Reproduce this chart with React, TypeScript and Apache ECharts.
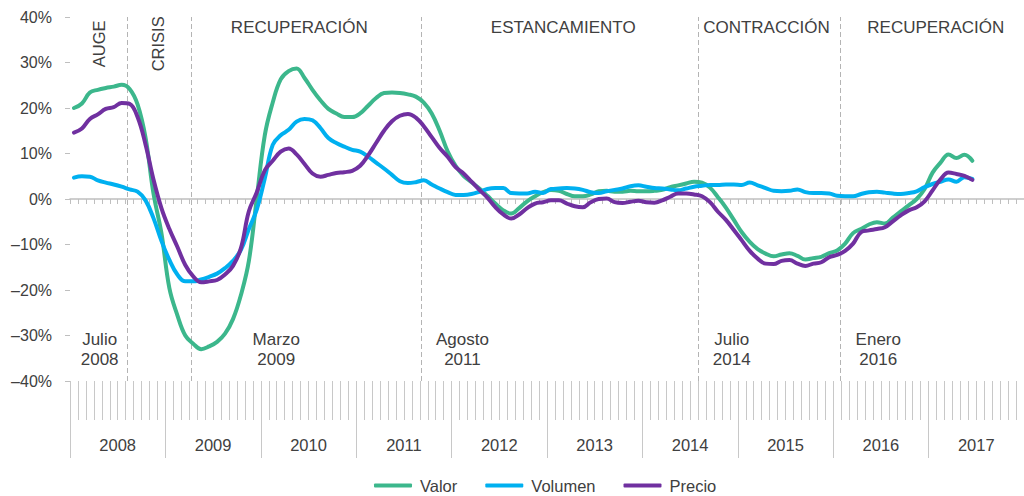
import React, { useEffect, useRef } from "react";
import * as echarts from "echarts";

// Month axis: Jan 2008 .. Dec 2017 (120 months); data Jan 2008 .. Jun 2017
const YEARS = ["2008", "2009", "2010", "2011", "2012", "2013", "2014", "2015", "2016", "2017"];
const MONTHS_ON_AXIS = 120;

const VALOR = [
  20.0, 21.0, 23.4, 24.0, 24.4, 24.7, 25.1, 24.2, 20.8, 13.5, 1.2, -7.5,
  -19.6, -25.5, -30.0, -31.8, -33.0, -32.4, -31.4, -29.6, -26.4, -21.1, -13.6, 0.3,
  14.0, 21.2, 26.3, 28.1, 28.7, 26.6, 24.0, 21.7, 19.8, 18.8, 18.0, 18.0,
  18.8, 20.5, 22.2, 23.3, 23.4, 23.3, 23.0, 22.5, 21.2, 18.8, 15.0, 10.5,
  7.3, 5.1, 3.7, 2.3, 0.7, -1.0, -2.5, -3.2, -2.0, -0.5, 0.6, 1.5,
  2.0, 1.8, 1.1, 0.6, 0.6, 1.0, 1.7, 1.8, 1.6, 1.6, 1.8, 1.7,
  1.7, 1.8, 2.0, 2.6, 3.0, 3.4, 3.8, 3.6, 2.5, 0.4, -1.9, -4.6,
  -7.3, -9.4, -11.0, -12.0, -12.6, -12.2, -11.9, -12.5, -13.3, -13.0, -12.7, -11.9,
  -11.3, -9.8, -7.5, -6.6, -5.6, -5.1, -5.4, -4.1, -2.7, -1.4, 0.0, 2.2,
  5.8, 8.0, 9.8, 9.0, 9.7, 8.4,
];

const VOLUMEN = [
  4.7, 5.0, 4.9, 4.1, 3.6, 3.2, 2.7, 2.1, 1.6, -0.3, -4.2, -9.2,
  -13.4, -16.6, -18.1, -18.1, -17.7, -17.1, -16.4, -15.2, -13.6, -11.2, -6.6, -2.3,
  4.5, 11.9, 14.0, 15.2, 17.0, 17.6, 17.3, 15.6, 13.4, 12.3, 11.5, 10.8,
  10.4, 9.3, 8.0, 6.7, 5.3, 3.9, 3.5, 3.7, 4.1, 3.2, 2.3, 1.5,
  0.9, 0.9, 1.1, 1.6, 2.2, 2.4, 2.4, 1.3, 1.2, 1.2, 1.6, 1.3,
  2.2, 2.3, 2.4, 2.3, 2.0, 1.5, 1.3, 1.7, 2.0, 2.3, 2.8, 3.0,
  2.7, 2.4, 2.3, 2.1, 1.9, 2.3, 2.7, 2.9, 3.1, 3.1, 3.2, 3.2,
  3.1, 3.6, 3.0, 2.4, 1.8, 1.7, 1.8, 2.1, 1.5, 1.3, 1.3, 1.2,
  0.7, 0.6, 0.6, 1.1, 1.5, 1.6, 1.4, 1.2, 1.1, 1.3, 1.7, 2.6,
  3.3, 3.8, 4.3, 3.8, 4.8, 4.4,
];

const PRECIO = [
  14.6, 15.5, 17.6, 18.6, 19.8, 20.2, 21.1, 20.9, 18.0, 12.0, 4.3, -2.0,
  -6.6, -10.5, -14.5, -17.0, -18.3, -18.1, -17.8, -16.6, -14.7, -10.8, -2.7, 1.5,
  6.3, 8.4, 10.4, 11.1, 9.8, 7.7, 5.6, 4.9, 5.3, 5.7, 5.9, 6.2,
  7.3, 9.6, 12.3, 15.0, 17.1, 18.3, 18.7, 17.9, 16.0, 13.6, 11.2, 9.3,
  7.0, 5.6, 3.8, 2.0, 0.3, -1.8, -3.4, -4.3, -3.4, -2.0, -1.0, -0.7,
  -0.3, -0.3, -1.0, -1.6, -1.8, -0.7, 0.0, 0.1, -0.7, -0.9, -0.6, -0.4,
  -0.7, -0.8, -0.3, 0.5, 1.2, 1.2, 1.0, 0.6, -0.7, -2.8, -4.6, -6.8,
  -9.1, -11.4, -13.1, -14.2, -14.3, -13.6, -13.4, -14.2, -14.7, -14.2, -13.9, -12.8,
  -12.3, -11.4, -9.8, -7.3, -6.9, -6.6, -6.2, -4.9, -3.6, -2.5, -1.8, -0.5,
  1.9, 4.3, 5.8, 5.5, 5.1, 4.2,
];

const Y_MIN = -40;
const Y_MAX = 40;
const Y_STEP = 10;

// Vertical dashed dividers (in months from Jan 2008)
const DIVIDERS = [7.24, 15.27, 44.2, 79.07, 96.84];

// Phase labels (month position, value position)
const PHASES = [
  { text: "AUGE", x: 3.66, y: 34.1, rotate: 90 },
  { text: "CRISIS", x: 11.13, y: 34.1, rotate: 90 },
  { text: "RECUPERACIÓN", x: 28.85, y: 37.7, rotate: 0 },
  { text: "ESTANCAMIENTO", x: 62.04, y: 37.7, rotate: 0 },
  { text: "CONTRACCIÓN", x: 87.6, y: 37.7, rotate: 0 },
  { text: "RECUPERACIÓN", x: 108.9, y: 37.7, rotate: 0 },
];

const EVENTS = [
  { text: "Julio\n2008", x: 3.73 },
  { text: "Marzo\n2009", x: 25.94 },
  { text: "Agosto\n2011", x: 49.36 },
  { text: "Julio\n2014", x: 83.23 },
  { text: "Enero\n2016", x: 101.67 },
];
const EVENT_Y = -33.1;

const FONT = "'Liberation Sans', Arial, Helvetica, sans-serif";
const TEXT = "#404040";
const AXIS_GRAY = "#bfbfbf";
const C_VALOR = "#3cb78c";
const C_VOLUMEN = "#00b0f0";
const C_PRECIO = "#7030a0";

const toPoints = (arr: number[]) => arr.map((v, i) => [i + 0.5, v]);

export default function App() {
  const ref = useRef<HTMLDivElement>(null);

  useEffect(() => {
    if (!ref.current) return;
    const chart = echarts.init(ref.current, undefined, { renderer: "svg" });

    const lineSeries = (name: string, data: number[], color: string, extra: any = {}) => ({
      name,
      type: "line",
      xAxisIndex: 0,
      yAxisIndex: 0,
      data: toPoints(data),
      smooth: 0.4,
      showSymbol: false,
      symbol: "none",
      lineStyle: { color, width: 4, cap: "round", join: "round" },
      itemStyle: { color },
      z: 3,
      ...extra,
    });

    const option: any = {
      animation: false,
      textStyle: { fontFamily: FONT },
      grid: { left: 70, top: 17, width: 956.6, height: 364, containLabel: false },
      legend: {
        data: ["Valor", "Volumen", "Precio"],
        left: 369,
        top: 472,
        icon: "roundRect",
        itemWidth: 38,
        itemHeight: 4,
        itemGap: 28,
        textStyle: { color: TEXT, fontSize: 16.5, fontFamily: FONT, padding: [0, 0, 0, 3] },
      },
      xAxis: [
        {
          type: "value",
          min: 0,
          max: MONTHS_ON_AXIS,
          interval: 1,
          position: "bottom",
          axisLine: { show: true, onZero: true, lineStyle: { color: AXIS_GRAY, width: 1.5 } },
          axisTick: { show: true, length: 5, lineStyle: { color: AXIS_GRAY, width: 1 } },
          axisLabel: { show: false },
          splitLine: { show: false },
        },
        {
          type: "value",
          min: 0,
          max: MONTHS_ON_AXIS,
          interval: 1,
          position: "bottom",
          axisLine: { show: false, onZero: false },
          axisTick: { show: true, length: 39, lineStyle: { color: "#c8c8c8", width: 1 } },
          axisLabel: { show: false },
          splitLine: { show: false },
        },
        {
          type: "category",
          data: YEARS,
          boundaryGap: true,
          position: "bottom",
          axisLine: { show: false, onZero: false },
          axisTick: { show: true, interval: 0, length: 77, lineStyle: { color: "#c8c8c8", width: 1 } },
          axisLabel: { show: true, interval: 0, margin: 55, color: TEXT, fontSize: 16.5, fontFamily: FONT },
          splitLine: { show: false },
        },
      ],
      yAxis: {
        type: "value",
        min: Y_MIN,
        max: Y_MAX,
        interval: Y_STEP,
        axisLine: { show: false },
        axisTick: { show: true, length: 5, lineStyle: { color: AXIS_GRAY, width: 1 } },
        axisLabel: {
          margin: 18,
          color: TEXT,
          fontSize: 16,
          fontFamily: FONT,
          formatter: (v: number) => (v < 0 ? "–" + Math.abs(v) : String(v)) + "%",
        },
        splitLine: { show: false },
      },
      series: [
        lineSeries("Valor", VALOR, C_VALOR, {
          markLine: {
            silent: true,
            symbol: "none",
            z: 1,
            label: { show: false },
            lineStyle: { color: "#b4b4b4", type: [5, 3], width: 1 },
            data: DIVIDERS.map((d) => ({ xAxis: d })),
          },
          markPoint: {
            silent: true,
            symbol: "circle",
            symbolSize: 0,
            itemStyle: { color: "transparent" },
            label: {
              show: true,
              position: "inside",
              color: TEXT,
              fontFamily: FONT,
              fontSize: 17,
              lineHeight: 20,
              align: "center",
              verticalAlign: "middle",
              formatter: "{b}",
            },
            data: [
              ...PHASES.map((p) => ({
                name: p.text,
                coord: [p.x, p.y],
                label: { rotate: p.rotate, fontSize: p.rotate ? 16.5 : 17 },
              })),
              ...EVENTS.map((e) => ({ name: e.text, coord: [e.x, EVENT_Y] })),
            ],
          },
        }),
        lineSeries("Volumen", VOLUMEN, C_VOLUMEN),
        lineSeries("Precio", PRECIO, C_PRECIO),
      ],
    };

    chart.setOption(option);
    return () => chart.dispose();
  }, []);

  return (
    <div
      ref={ref}
      style={{ position: "fixed", left: 0, top: 0, width: 1024, height: 496, background: "#ffffff" }}
    />
  );
}
